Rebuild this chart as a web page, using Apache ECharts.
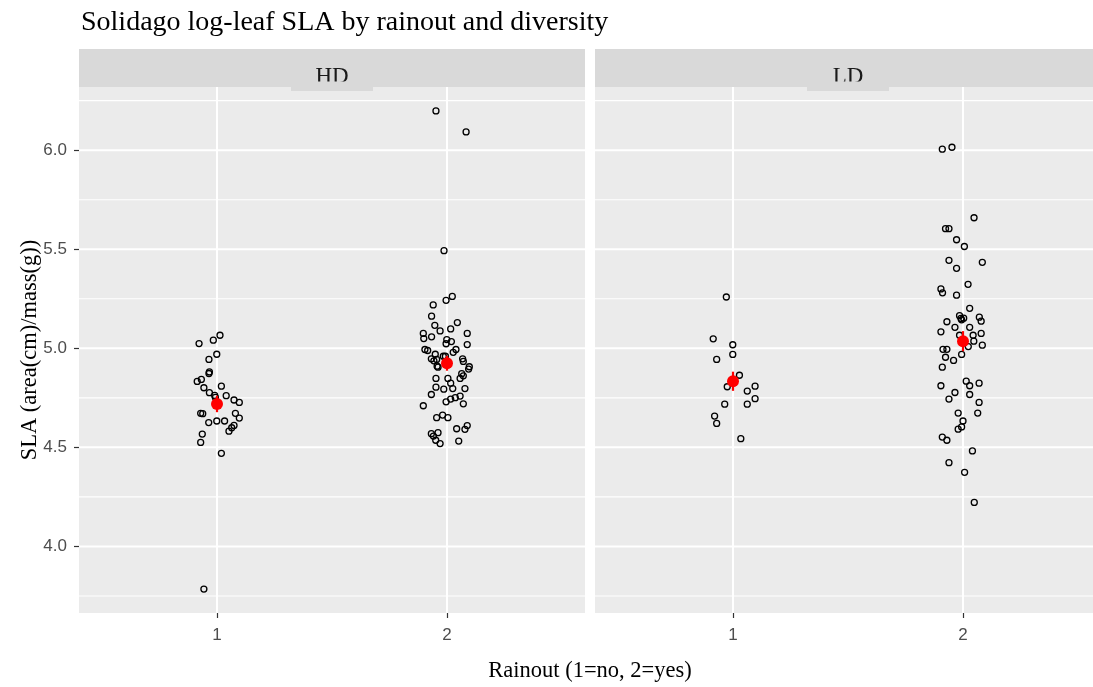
<!DOCTYPE html>
<html>
<head>
<meta charset="utf-8">
<script src="https://cdn.jsdelivr.net/npm/echarts@6/dist/echarts.min.js"></script>
<style>
  html, body { margin: 0; padding: 0; background: #ffffff; }
  #chart { width: 1093px; height: 687px; }
</style>
</head>
<body>
<div id="chart"></div>
<script>
// Facet panels and axis breaks
const panels = ['HD', 'LD'];
const xBreaks = [1, 2];
const yBreaks = [4.0, 4.5, 5.0, 5.5, 6.0];
const yMinorBreaks = [3.75, 4.25, 4.75, 5.25, 5.75, 6.25];

// Jittered observations: [rainout (jittered), log SLA]
const hdRainoutNo = [
  [0.922, 5.024], [0.984, 5.041], [1.013, 5.066], [0.965, 4.944], [0.999, 4.970],
  [0.965, 4.873], [0.967, 4.881], [0.914, 4.833], [0.932, 4.843], [0.943, 4.801],
  [1.019, 4.809], [0.967, 4.776], [0.990, 4.762], [0.993, 4.752], [1.040, 4.761],
  [1.074, 4.739], [1.097, 4.727], [0.929, 4.672], [0.938, 4.670], [1.080, 4.672],
  [1.097, 4.648], [0.964, 4.625], [0.999, 4.633], [1.033, 4.633], [1.074, 4.611],
  [1.064, 4.599], [1.052, 4.582], [0.936, 4.567], [0.929, 4.525], [1.019, 4.470],
  [0.943, 3.785]
];
const hdRainoutYes = [
  [1.952, 6.198], [2.083, 6.092], [1.987, 5.493], [2.023, 5.262], [1.996, 5.242],
  [1.940, 5.219], [1.933, 5.162], [2.045, 5.130], [1.947, 5.116], [1.970, 5.088],
  [2.016, 5.098], [1.897, 5.075], [1.899, 5.049], [1.933, 5.058], [2.088, 5.075],
  [1.999, 5.044], [2.019, 5.034], [1.996, 5.023], [2.088, 5.019], [2.039, 4.994],
  [2.027, 4.980], [1.904, 4.994], [1.916, 4.989], [1.949, 4.970], [1.984, 4.960],
  [1.993, 4.960], [1.932, 4.947], [1.943, 4.937], [1.955, 4.944], [2.068, 4.947],
  [2.071, 4.934], [2.097, 4.907], [1.957, 4.910], [1.961, 4.905], [2.094, 4.895],
  [2.064, 4.872], [2.071, 4.861], [2.057, 4.848], [1.952, 4.848], [2.004, 4.848],
  [2.016, 4.824], [1.952, 4.804], [1.986, 4.794], [2.025, 4.797], [2.078, 4.797],
  [1.932, 4.767], [2.057, 4.759], [2.036, 4.751], [2.016, 4.744], [1.996, 4.730],
  [2.071, 4.720], [1.897, 4.710], [1.955, 4.650], [1.981, 4.663], [2.004, 4.650],
  [2.088, 4.610], [2.078, 4.591], [2.042, 4.594], [1.932, 4.569], [1.961, 4.574],
  [1.941, 4.557], [1.951, 4.536], [1.970, 4.519], [2.051, 4.532]
];
const ldRainoutNo = [
  [0.971, 5.259], [0.914, 5.048], [0.999, 5.018], [0.929, 4.944], [0.999, 4.969],
  [1.028, 4.864], [0.975, 4.806], [1.062, 4.784], [1.096, 4.809], [1.096, 4.746],
  [1.062, 4.718], [0.964, 4.718], [0.920, 4.658], [0.929, 4.621], [1.034, 4.544]
];
const ldRainoutYes = [
  [1.910, 6.005], [1.952, 6.015], [2.048, 5.659], [1.924, 5.604], [1.939, 5.604],
  [1.972, 5.548], [2.006, 5.514], [1.939, 5.444], [2.084, 5.434], [1.972, 5.404],
  [2.022, 5.323], [1.904, 5.300], [1.911, 5.280], [1.972, 5.268], [2.029, 5.202],
  [1.985, 5.165], [2.003, 5.152], [2.071, 5.157], [1.994, 5.144], [2.079, 5.137],
  [1.930, 5.134], [1.965, 5.106], [2.029, 5.106], [1.904, 5.083], [1.985, 5.066],
  [2.044, 5.066], [2.079, 5.075], [2.047, 5.036], [2.023, 5.009], [2.084, 5.016],
  [1.913, 4.995], [1.930, 4.995], [1.994, 4.969], [1.924, 4.955], [1.959, 4.939],
  [1.910, 4.905], [2.014, 4.834], [2.029, 4.811], [2.070, 4.824], [1.904, 4.811],
  [1.965, 4.777], [2.029, 4.767], [1.939, 4.744], [2.070, 4.727], [1.979, 4.673],
  [2.064, 4.673], [2.000, 4.633], [1.994, 4.603], [1.979, 4.592], [1.910, 4.552],
  [1.930, 4.536], [2.041, 4.482], [1.939, 4.423], [2.007, 4.374], [2.049, 4.222],
  [1.991, 5.151]
];

const panelGroups = [
  [{ level: 1, points: hdRainoutNo }, { level: 2, points: hdRainoutYes }],
  [{ level: 1, points: ldRainoutNo }, { level: 2, points: ldRainoutYes }]
];

// mean +/- standard error for each rainout level
function meanSe(group) {
  const ys = group.points.map(p => p[1]);
  const n = ys.length;
  const mean = ys.reduce((a, b) => a + b, 0) / n;
  const sd = Math.sqrt(ys.reduce((a, b) => a + (b - mean) * (b - mean), 0) / (n - 1));
  const se = sd / Math.sqrt(n);
  return [group.level, mean, mean - se, mean + se];
}

const Y_MIN = 3.664, Y_MAX = 6.319;
const PANEL_TOP = 87, PANEL_H = 526, PANEL_W = 506;
const panelLeft = [79, 595];
const tickFont = 'Liberation Sans, Arial, sans-serif';
const serifFont = 'Liberation Serif, Times New Roman, serif';

const chart = echarts.init(document.getElementById('chart'), null, { renderer: 'canvas' });

const grids = panelLeft.map(left => ({
  left: left, top: PANEL_TOP, width: PANEL_W, height: PANEL_H,
  show: true, backgroundColor: '#ebebeb', borderWidth: 0,
  containLabel: false, outerBoundsMode: 'none'
}));

const xAxes = panelLeft.map((_, i) => ({
  type: 'value', gridIndex: i, min: 0.4, max: 2.6,
  axisLine: { show: false },
  splitLine: { show: false },
  axisTick: { show: true, customValues: xBreaks, length: 5, lineStyle: { color: '#333333', width: 1.2 } },
  axisLabel: {
    show: true, customValues: xBreaks, margin: 14,
    color: '#4d4d4d', fontSize: 17, fontFamily: tickFont,
    formatter: v => String(v)
  }
}));

const yAxes = panelLeft.map((_, i) => ({
  type: 'value', gridIndex: i, min: Y_MIN, max: Y_MAX,
  axisLine: { show: false },
  splitLine: { show: false },
  axisTick: { show: i === 0, customValues: yBreaks, length: 5, lineStyle: { color: '#333333', width: 1.2 } },
  axisLabel: {
    show: i === 0, customValues: yBreaks, margin: 12,
    color: '#4d4d4d', fontSize: 17, fontFamily: tickFont,
    formatter: v => v.toFixed(1)
  }
}));

// panel grid lines: [orientation, value, width]
const gridLineData = []
  .concat(yBreaks.map(v => ['h', v, 2]))
  .concat(yMinorBreaks.map(v => ['h', v, 1.1]))
  .concat(xBreaks.map(v => ['v', v, 2]));

const series = [];
panelLeft.forEach((_, i) => {
  series.push({
    type: 'custom', xAxisIndex: i, yAxisIndex: i, z: 1, silent: true,
    data: gridLineData.map(d => ({ value: [d[0] === 'v' ? d[1] : 1.5, d[0] === 'h' ? d[1] : 5] })),
    renderItem: (params, api) => {
      const cs = params.coordSys;
      const item = gridLineData[params.dataIndex];
      const p = api.coord([api.value(0), api.value(1)]);
      const shape = item[0] === 'h'
        ? { x1: cs.x, y1: p[1], x2: cs.x + cs.width, y2: p[1] }
        : { x1: p[0], y1: cs.y, x2: p[0], y2: cs.y + cs.height };
      return { type: 'line', shape: shape, style: { stroke: '#ffffff', lineWidth: item[2] } };
    }
  });
  panelGroups[i].forEach(g => {
    series.push({
      type: 'scatter', xAxisIndex: i, yAxisIndex: i, z: 3,
      data: g.points, symbol: 'circle', symbolSize: 6,
      itemStyle: { color: 'rgba(0,0,0,0)', borderColor: '#000000', borderWidth: 1.3, opacity: 1 }
    });
  });
  const summaries = panelGroups[i].map(meanSe);
  series.push({
    type: 'custom', xAxisIndex: i, yAxisIndex: i, z: 4, silent: true,
    data: summaries,
    renderItem: (params, api) => {
      const lo = api.coord([api.value(0), api.value(2)]);
      const hi = api.coord([api.value(0), api.value(3)]);
      return { type: 'line', shape: { x1: lo[0], y1: lo[1], x2: hi[0], y2: hi[1] },
               style: { stroke: '#ff0000', lineWidth: 2.2 } };
    }
  });
  series.push({
    type: 'scatter', xAxisIndex: i, yAxisIndex: i, z: 5,
    data: summaries.map(s => [s[0], s[1]]), symbol: 'circle', symbolSize: 12,
    itemStyle: { color: '#ff0000', opacity: 1 }
  });
});

// facet strips, titles
const graphics = [];
panelLeft.forEach((left, i) => {
  const cx = left + PANEL_W / 2;
  graphics.push({ type: 'rect', shape: { x: left, y: 49, width: PANEL_W, height: 38 }, style: { fill: '#d9d9d9' }, z: 10 });
  graphics.push({ type: 'rect', shape: { x: cx - 41, y: 87, width: 82, height: 4 }, style: { fill: '#d9d9d9' }, z: 10 });
  graphics.push({ type: 'text', x: cx, y: 77, style: { text: panels[i], fill: '#1a1a1a', font: '23px ' + serifFont, align: 'center', verticalAlign: 'middle' }, z: 11 });
  graphics.push({ type: 'rect', shape: { x: cx - 41, y: 81.5, width: 82, height: 9.5 }, style: { fill: '#d9d9d9' }, z: 12 });
});
graphics.push({ type: 'text', x: 81, y: 23, style: { text: 'Solidago log-leaf SLA by rainout and diversity', fill: '#000000', font: '28px ' + serifFont, align: 'left', verticalAlign: 'middle' }, z: 11 });
graphics.push({ type: 'text', x: 590, y: 671, style: { text: 'Rainout (1=no, 2=yes)', fill: '#000000', font: '22.5px ' + serifFont, align: 'center', verticalAlign: 'middle' }, z: 11 });
graphics.push({ type: 'text', x: 30, y: 350, rotation: Math.PI / 2, style: { text: 'SLA (area(cm)/mass(g))', fill: '#000000', font: '22.5px ' + serifFont, align: 'center', verticalAlign: 'middle' }, z: 11 });

chart.setOption({
  animation: false,
  backgroundColor: '#ffffff',
  grid: grids,
  xAxis: xAxes,
  yAxis: yAxes,
  series: series,
  graphic: graphics
});
</script>
</body>
</html>
